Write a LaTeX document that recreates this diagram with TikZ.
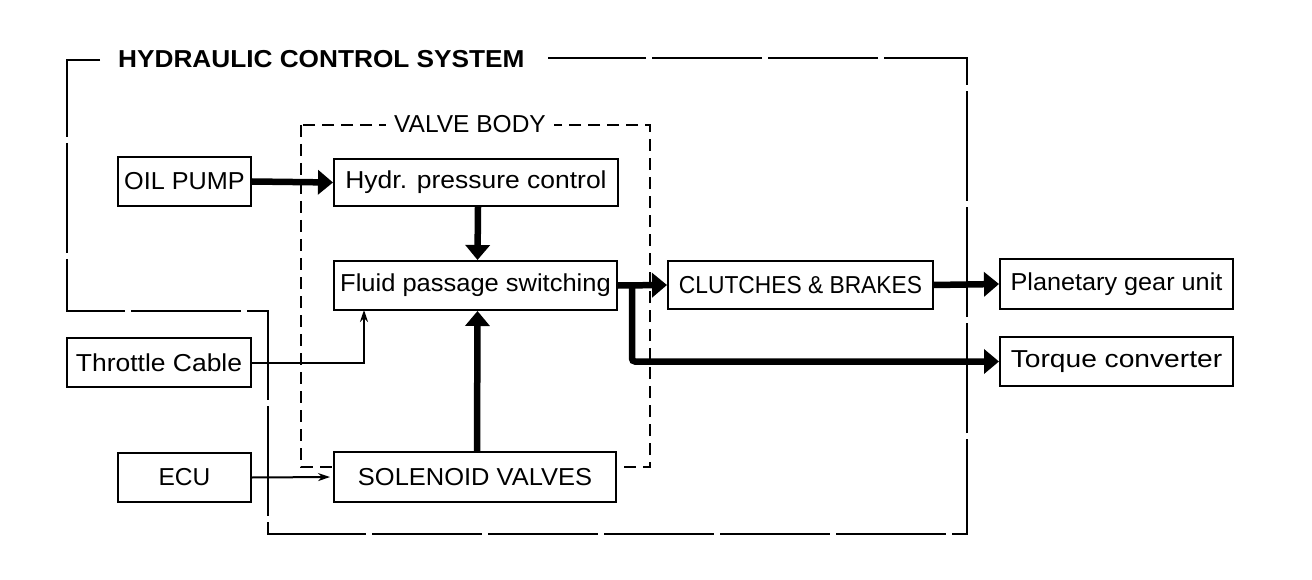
\documentclass[tikz,border=0pt]{standalone}
\usepackage{fontspec}
\setmainfont{Liberation Sans}
\usetikzlibrary{arrows.meta,calc}
\newcommand{\sxt}[2]{\scalebox{#1}[1]{#2}}
\begin{document}
\begin{tikzpicture}[x=1pt,y=-1pt,
  font=\fontsize{24.5}{28}\selectfont,
  blk/.style={draw,line width=2pt,fill=white,inner sep=0pt},
  thick arrow/.style={line width=6.5pt,-{Triangle[length=15pt,width=24pt]}},
  thin arrow/.style={line width=2pt,-{Stealth[length=12pt,width=8pt]}},
  outerline/.style={line width=2pt,dash pattern=on 110pt off 6pt},
  vbline/.style={line width=1.7pt,dash pattern=on 12pt off 7pt}]
\useasboundingbox (0,0) rectangle (1312,580);
\fill[white] (0,0) rectangle (1312,580);

% outer boundary: hydraulic control system
\draw[outerline] (100,60) -- (67,60) -- (67,311) -- (268,311) -- (268,534) -- (967,534) -- (967,58) -- (548,58);
\node[anchor=base west,inner sep=0pt] (hcs) at (118,68) {\bfseries\sxt{1.07}{HYDRAULIC CONTROL SYSTEM}};

% valve body
\draw[vbline] (301,125) rectangle (650,467);
\node[anchor=base west,fill=white,inner xsep=8pt,inner ysep=2pt] (vb) at (386,133) {VALVE BODY};

% boxes
\node[blk,minimum width=133pt,minimum height=49pt] (oil) at (184.5,181.5) {\sxt{1.03}{OIL PUMP}};
\node[blk,minimum width=284pt,minimum height=47pt] (hydr) at (476,182.5) {\sxt{1.08}{Hydr. pressure control}};
\node[blk,minimum width=283pt,minimum height=49pt] (fluid) at (475.5,285.5) {\sxt{1.04}{Fluid passage switching}};
\node[blk,minimum width=184pt,minimum height=49pt] (thr) at (159,362.5) {\sxt{1.08}{Throttle Cable}};
\node[blk,minimum width=133pt,minimum height=49pt] (ecu) at (184.5,477.5) {ECU};
\node[blk,minimum width=282pt,minimum height=50pt] (sol) at (475,477) {\sxt{1.04}{SOLENOID VALVES}};
\node[blk,minimum width=265pt,minimum height=48pt] (clb) at (800.5,285) {\sxt{0.93}{CLUTCHES \& BRAKES}};
\node[blk,minimum width=233pt,minimum height=50pt] (pgu) at (1116.5,284) {\sxt{1.03}{Planetary gear unit}};
\node[blk,minimum width=233pt,minimum height=49pt] (tc) at (1116.5,361.5) {\sxt{1.15}{Torque converter}};

% thick flow arrows
\draw[thick arrow] (oil.east) -- (hydr.west);
\draw[thick arrow] ($(hydr.south)+(2,0)$) -- ($(fluid.north)+(2,0)$);
\draw[thick arrow] ($(sol.north)+(2,0)$) -- ($(fluid.south)+(2,0)$);
\draw[thick arrow] (fluid.east) -- (clb.west);
\draw[thick arrow] (clb.east) -- (pgu.west);
\coordinate (br) at (632,285.5);
\draw[thick arrow,rounded corners=3pt] (br) |- (tc.west);

% thin control lines
\coordinate (thrup) at (364,310);
\draw[thin arrow] (thr.east) -| (thrup);
\draw[thin arrow,shorten >=3pt] (ecu.east) -- (sol.west);
\end{tikzpicture}
\end{document}
